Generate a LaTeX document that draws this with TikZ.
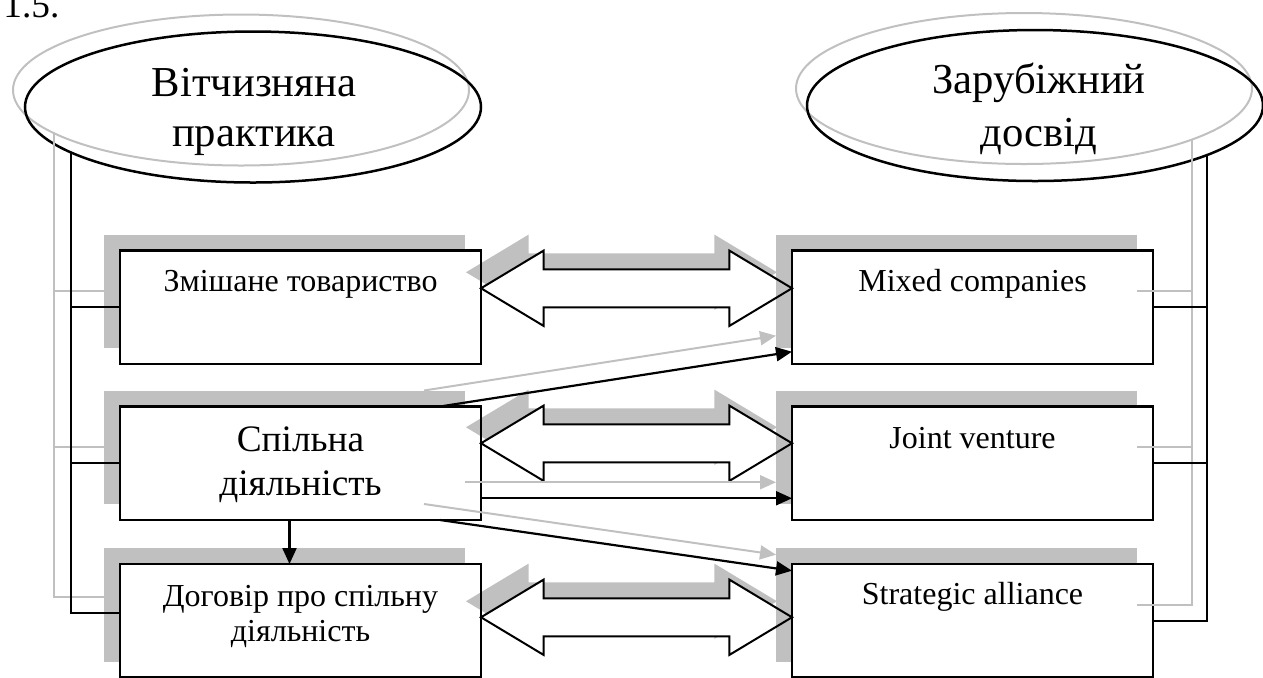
\documentclass[tikz,border=0pt]{standalone}
\usepackage{fontspec}
\setmainfont{Liberation Serif}
\usetikzlibrary{shapes.geometric,arrows.meta,calc}
\definecolor{shd}{HTML}{C0C0C0}
\begin{document}
\begin{tikzpicture}[x=0.5pt,y=-0.5pt,
  boxshape/.style={rectangle,minimum width=180.5pt,minimum height=56.75pt,inner sep=0pt,outer sep=0pt},
  box/.style={boxshape,fill=white,draw=black,line width=1.15pt},
  boxshadow/.style={boxshape,fill=shd},
  boxline/.style={draw=black,line width=1.15pt},
  ell/.style={ellipse,draw=black,line width=1.25pt,minimum width=228pt,minimum height=75.5pt,inner sep=0pt,outer sep=0pt},
  ellshadow/.style={ellipse,draw=shd,line width=1pt,minimum width=228pt,minimum height=75.5pt,inner sep=0pt,outer sep=0pt},
  txt/.style={anchor=base,inner sep=0pt,font=\fontsize{16}{19}\selectfont},
  bigtxt/.style={anchor=base,inner sep=0pt,font=\fontsize{18.67}{22}\selectfont},
  eltxt/.style={anchor=base,inner sep=0pt,font=\fontsize{21.33}{25}\selectfont},
  blk/.style={draw=black,line width=1.1pt},
  gry/.style={draw=shd,line width=1pt},
  blkarrow/.style={blk,-{Triangle[length=8pt,width=7pt]}},
  gryarrow/.style={gry,-{Triangle[length=8pt,width=7pt]}},
  dblarr/.style={insert path={-- ++(62.7,-37.7) -- ++(0,18.7) -- ++(185.6,0) -- ++(0,-18.7) -- ++(62.7,37.7) -- ++(-62.7,37.7) -- ++(0,-18.7) -- ++(-185.6,0) -- ++(0,18.7) -- cycle}},
  bigarrowfill/.style={fill=white},
  bigarrowline/.style={draw=black,line width=1pt,line join=miter},
]
\useasboundingbox (0,0) rectangle (1263,677);
\clip (0,0) rectangle (1263,677);

% figure number (cut at top)
\node[bigtxt,anchor=base west] (fignum) at (3,17.5) {1.5.};

% box centres
\coordinate (c1) at (300.5,307.25);
\coordinate (c2) at (300.5,463.25);
\coordinate (c3) at (300.5,620.75);
\coordinate (d1) at (972.5,307.25);
\coordinate (d2) at (972.5,463.25);
\coordinate (d3) at (972.5,620.75);

% left boxes with shadows
\node[boxshadow] (b1s) at ($(c1)+(-16,-16)$) {};
\node[boxshadow] (b2s) at ($(c2)+(-16,-16)$) {};
\node[boxshadow] (b3s) at ($(c3)+(-16,-16)$) {};
\node[box] (b1) at (c1) {};
\node[box] (b2) at (c2) {};
\node[box] (b3) at (c3) {};

% block arrow tips
\coordinate (a1) at ($(b1.east)+(0,-19)$);
\coordinate (a2) at ($(b2.east)+(0,-20)$);
\coordinate (a3) at ($(b3.east)+(0,-3.5)$);

% block arrow shadows and fills
\fill[shd] ($(a1)+(-15,-16)$) [dblarr];
\fill[shd] ($(a2)+(-15,-16)$) [dblarr];
\fill[shd] ($(a3)+(-15,-16)$) [dblarr];
\fill[bigarrowfill] (a1) [dblarr];
\fill[bigarrowfill] (a2) [dblarr];
\fill[bigarrowfill] (a3) [dblarr];

% right boxes with shadows
\node[boxshadow] (r1s) at ($(d1)+(-16,-16)$) {};
\node[boxshadow] (r2s) at ($(d2)+(-16,-16)$) {};
\node[boxshadow] (r3s) at ($(d3)+(-16,-16)$) {};
\node[box] (r1) at (d1) {};
\node[box] (r2) at (d2) {};
\node[box] (r3) at (d3) {};

% block arrow outlines
\draw[bigarrowline] (a1) [dblarr];
\draw[bigarrowline] (a2) [dblarr];
\draw[bigarrowline] (a3) [dblarr];

% left box borders on top
\draw[boxline] (b1.north west) rectangle (b1.south east);
\draw[boxline] (b2.north west) rectangle (b2.south east);
\draw[boxline] (b3.north west) rectangle (b3.south east);

% ellipses
\node[ellshadow] (ellLs) at (241,90) {};
\node[ell] (ellL) at (253,107) {};
\node[ellshadow] (ellRs) at (1024,88.5) {};
\node[ell] (ellR) at (1035,105.5) {};

% thin arrows (shadows first)
\draw[gryarrow] ($(b2s.north west)+(320,0)$) -- ($(r1s.south west)+(0,-12.3)$);
\draw[gryarrow] ($(b2s.east)+(0,35)$) -- ($(r2s.west)+(0,35)$);
\draw[gryarrow] ($(b2s.south west)+(320,0)$) -- ($(r3s.north west)+(0,6.7)$);
\draw[blkarrow] ($(b2.north west)+(320,0)$) -- ($(r1.south west)+(0,-12.3)$);
\draw[blkarrow] ($(b2.east)+(0,35)$) -- ($(r2.west)+(0,35)$);
\draw[blkarrow] ($(b2.south west)+(320,0)$) -- ($(r3.north west)+(0,6.7)$);
\draw[blkarrow] ($(b2.south)+(-11,0)$) -- ($(b3.north)+(-11,0)$);

% left bracket connectors
\draw[gry] (ellLs.193) |- ($(b3s.west)+(0,-8)$);
\draw[gry] (ellLs.193 |- b1s.west) -- (b1s.west);
\draw[gry] (ellLs.193 |- b2s.west) -- (b2s.west);
\draw[blk] (ellL.194) |- ($(b3.west)+(0,-7.5)$);
\draw[blk] (ellL.194 |- b1.west) -- ($(b1.west)$);
\draw[blk] (ellL.194 |- b2.west) -- ($(b2.west)$);

% right bracket connectors
\draw[gry] (ellRs.343.4) |- (r3s.east);
\draw[gry] (ellRs.343.4 |- r1s.east) -- (r1s.east);
\draw[gry] (ellRs.343.4 |- r2s.east) -- (r2s.east);
\draw[blk] (ellR.344.4) |- (r3.east);
\draw[blk] (ellR.344.4 |- r1.east) -- (r1.east);
\draw[blk] (ellR.344.4 |- r2.east) -- (r2.east);

% texts
\node[eltxt] (tL1) at (254,96.7) {Вітчизняна};
\node[eltxt] (tL2) at (254,146.7) {практика};
\node[eltxt] (tR1) at (1039,93.3) {Зарубіжний};
\node[eltxt] (tR2) at (1039,146.7) {досвід};

\node[txt] (tb1) at ($(b1.north)+(0,41.2)$) {Змішане товариство};
\node[bigtxt] (tb2a) at ($(b2.north)+(0,45.2)$) {Спільна};
\node[bigtxt] (tb2b) at ($(b2.north)+(0,88.5)$) {діяльність};
\node[txt] (tb3a) at ($(b3.north)+(0,42.7)$) {Договір про спільну};
\node[txt] (tb3b) at ($(b3.north)+(0,77.7)$) {діяльність};

\node[txt] (tr1) at ($(r1.north)+(0,41)$) {Mixed companies};
\node[txt] (tr2) at ($(r2.north)+(0,41.8)$) {Joint venture};
\node[txt] (tr3) at ($(r3.north)+(0,40)$) {Strategic alliance};
\end{tikzpicture}
\end{document}
